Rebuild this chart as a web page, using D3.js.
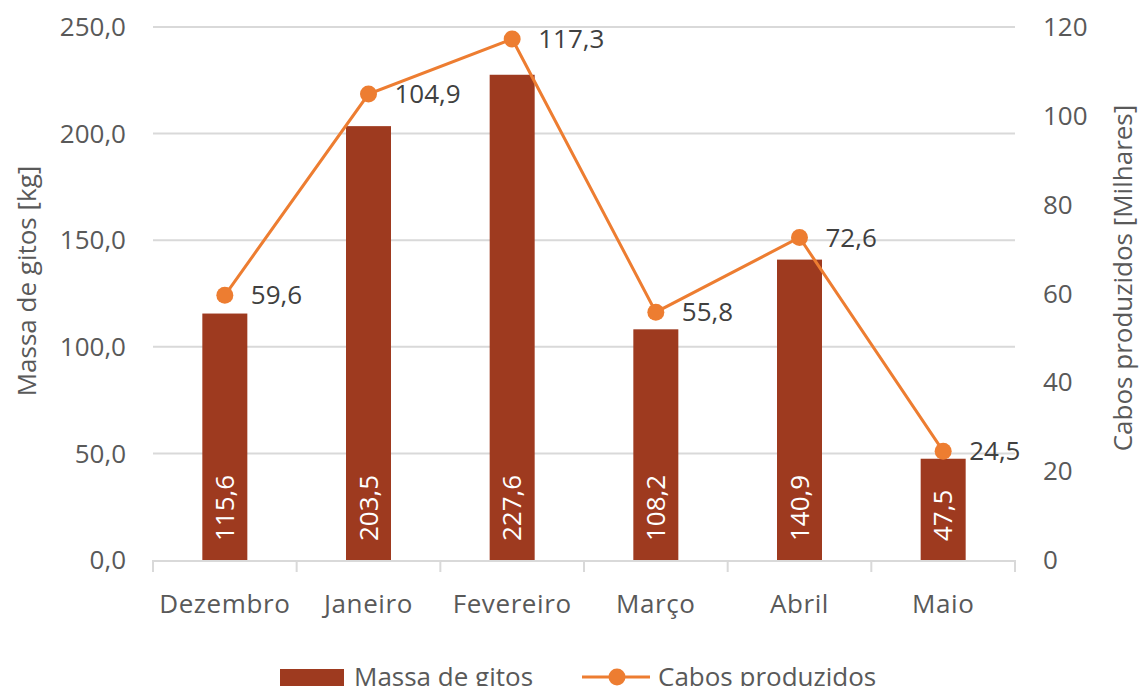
<!DOCTYPE html>
<html>
<head>
<meta charset="utf-8">
<script src="https://cdn.jsdelivr.net/npm/d3@7"></script>
<style>
  body { margin: 0; background: #fff; }
  text { font-family: 'Open Sans', Lato, sans-serif; fill: #595959; font-size: 26px; }
</style>
</head>
<body>
<svg id="chart" width="1142" height="686"></svg>
<script>
const months = ['Dezembro', 'Janeiro', 'Fevereiro', 'Março', 'Abril', 'Maio'];
const massa = [115.6, 203.5, 227.6, 108.2, 140.9, 47.5];
const cabos = [59.6, 104.9, 117.3, 55.8, 72.6, 24.5];
const leftTicks = [0, 50, 100, 150, 200, 250];
const rightTicks = [0, 20, 40, 60, 80, 100, 120];

const fmt = (v, d) => v.toFixed(d).replace('.', ',');

const svg = d3.select('#chart');
const plotL = 153, plotR = 1015, plotT = 27, plotB = 560;

const x = d3.scaleBand().domain(months).range([plotL, plotR]);
const yL = d3.scaleLinear().domain([0, 250]).range([plotB, plotT]);
const yR = d3.scaleLinear().domain([0, 120]).range([plotB, plotT]);
const cx = (i) => x(months[i]) + x.bandwidth() / 2;

// gridlines
svg.append('g')
  .selectAll('line')
  .data(leftTicks.slice(1))
  .join('line')
  .attr('x1', plotL).attr('x2', plotR)
  .attr('y1', (d) => yL(d)).attr('y2', (d) => yL(d))
  .attr('stroke', '#d9d9d9').attr('stroke-width', 2);

// left axis labels
svg.append('g')
  .selectAll('text')
  .data(leftTicks)
  .join('text')
  .attr('x', 126).attr('y', (d) => yL(d))
  .attr('dy', '0.35em')
  .attr('text-anchor', 'end')
  .text((d) => fmt(d, 1));

// right axis labels
svg.append('g')
  .selectAll('text')
  .data(rightTicks)
  .join('text')
  .attr('x', 1043).attr('y', (d) => yR(d))
  .attr('dy', '0.35em')
  .text((d) => d);

// bars
const barW = 45;
svg.append('g')
  .selectAll('rect')
  .data(massa)
  .join('rect')
  .attr('x', (d, i) => cx(i) - barW / 2)
  .attr('y', (d) => yL(d))
  .attr('width', barW)
  .attr('height', (d) => plotB - yL(d))
  .attr('fill', '#9e3a1f');

// x axis
const xAxis = svg.append('g');
xAxis.append('line')
  .attr('x1', plotL).attr('x2', plotR)
  .attr('y1', plotB + 1).attr('y2', plotB + 1)
  .attr('stroke', '#d9d9d9').attr('stroke-width', 2);
xAxis.selectAll('line.tick')
  .data(months.concat(['end']))
  .join('line')
  .attr('class', 'tick')
  .attr('x1', (d, i) => plotL + i * x.bandwidth())
  .attr('x2', (d, i) => plotL + i * x.bandwidth())
  .attr('y1', plotB).attr('y2', plotB + 12)
  .attr('stroke', '#d9d9d9').attr('stroke-width', 2);
xAxis.selectAll('text')
  .data(months)
  .join('text')
  .attr('x', (d) => x(d) + x.bandwidth() / 2)
  .attr('y', 604)
  .attr('dy', '0.35em')
  .attr('text-anchor', 'middle')
  .style('letter-spacing', '0.6px')
  .text((d) => d);

// bar labels
svg.append('g')
  .selectAll('text')
  .data(massa)
  .join('text')
  .attr('transform', (d, i) => `translate(${cx(i)},${plotB - 19}) rotate(-90)`)
  .attr('dy', '0.35em')
  .style('fill', '#fff')
  .text((d) => fmt(d, 1));

// line
const line = d3.line()
  .x((d, i) => cx(i))
  .y((d) => yR(d));
svg.append('path')
  .datum(cabos)
  .attr('d', line)
  .attr('fill', 'none')
  .attr('stroke', '#ed7d31')
  .attr('stroke-width', 3);
svg.append('g')
  .selectAll('circle')
  .data(cabos)
  .join('circle')
  .attr('cx', (d, i) => cx(i))
  .attr('cy', (d) => yR(d))
  .attr('r', 8.5)
  .attr('fill', '#ed7d31');
svg.append('g')
  .selectAll('text')
  .data(cabos)
  .join('text')
  .attr('x', (d, i) => cx(i) + 26)
  .attr('y', (d) => yR(d))
  .attr('dy', '0.35em')
  .style('fill', '#404040')
  .text((d) => fmt(d, 1));

// axis titles
svg.append('text')
  .attr('transform', 'translate(27,281) rotate(-90)')
  .attr('text-anchor', 'middle')
  .attr('dy', '0.35em')
  .text('Massa de gitos [kg]');
svg.append('text')
  .attr('transform', 'translate(1123,278) rotate(-90)')
  .attr('text-anchor', 'middle')
  .attr('dy', '0.35em')
  .text('Cabos produzidos [Milhares]');

// legend
const lg = svg.append('g').attr('transform', 'translate(0,677)');
lg.append('rect').attr('x', 280).attr('y', -8).attr('width', 64).attr('height', 17).attr('fill', '#9e3a1f');
lg.append('text').attr('x', 354).attr('dy', '0.35em').text('Massa de gitos');
lg.append('line').attr('x1', 582).attr('x2', 650).attr('stroke', '#ed7d31').attr('stroke-width', 3);
lg.append('circle').attr('cx', 617).attr('r', 8.5).attr('fill', '#ed7d31');
lg.append('text').attr('x', 658).attr('dy', '0.35em').text('Cabos produzidos');
</script>
</body>
</html>
